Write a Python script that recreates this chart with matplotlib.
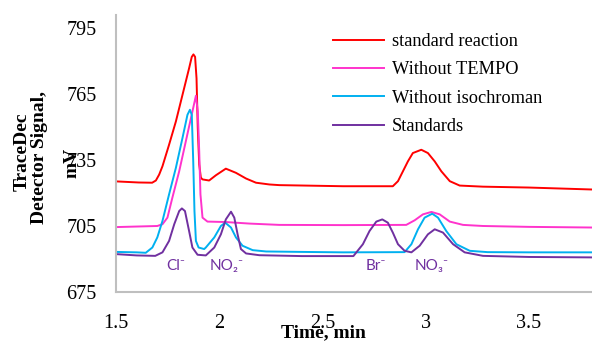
import matplotlib
matplotlib.use("Agg")
import matplotlib.pyplot as plt

# traces (time in min, signal in mV)
red_t = [1.50, 1.61, 1.675, 1.693, 1.709, 1.725, 1.757, 1.790, 1.822, 1.854, 1.867, 1.875,
         1.883, 1.890, 1.896, 1.903, 1.911, 1.919, 1.951, 1.984, 2.032, 2.081, 2.130, 2.178,
         2.243, 2.291, 2.60, 2.841, 2.866, 2.890, 2.914, 2.938, 2.979, 3.011, 3.044, 3.076,
         3.117, 3.165, 3.278, 3.50, 3.81]
red_v = [725.3, 724.8, 724.7, 725.7, 728.4, 732.2, 742.0, 752.6, 764.7, 776.8, 782.0, 783.1,
         782.0, 772.2, 749.6, 733.0, 727.0, 726.2, 725.7, 728.1, 731.1, 729.2, 726.6, 724.7,
         723.9, 723.6, 723.1, 723.1, 725.4, 729.9, 734.4, 738.2, 739.7, 738.2, 734.4, 729.9,
         725.4, 723.4, 722.9, 722.5, 721.6]

mag_t = [1.50, 1.62, 1.70, 1.725, 1.749, 1.773, 1.806, 1.838, 1.870, 1.887, 1.896, 1.903,
         1.909, 1.919, 1.943, 2.032, 2.146, 2.291, 2.60, 2.906, 2.947, 2.987, 3.028, 3.068,
         3.117, 3.181, 3.278, 3.50, 3.81]
mag_v = [704.5, 704.8, 705.0, 705.8, 708.8, 717.9, 729.9, 743.5, 757.1, 764.3, 757.1, 739.0,
         719.4, 708.8, 707.0, 706.8, 706.1, 705.5, 705.4, 705.5, 707.6, 710.3, 711.4, 710.3,
         707.0, 705.5, 705.0, 704.6, 704.3]

cyan_t = [1.50, 1.60, 1.644, 1.676, 1.700, 1.725, 1.757, 1.790, 1.822, 1.846, 1.858, 1.867,
          1.874, 1.880, 1.887, 1.900, 1.927, 1.935, 1.976, 2.008, 2.029, 2.057, 2.081, 2.113,
          2.162, 2.227, 2.40, 2.60, 2.898, 2.931, 2.963, 2.995, 3.032, 3.060, 3.100, 3.149,
          3.214, 3.30, 3.50, 3.81]
cyan_v = [693.2, 693.0, 692.8, 695.2, 699.8, 707.3, 719.4, 731.5, 745.1, 755.6, 757.9, 755.6,
          734.5, 711.8, 698.2, 695.2, 694.5, 695.2, 699.8, 705.0, 706.5, 704.3, 699.8, 696.0,
          694.0, 693.4, 693.2, 693.0, 693.1, 696.7, 703.5, 708.8, 710.6, 708.8, 702.7, 696.7,
          693.7, 693.1, 693.0, 693.0]

pur_t = [1.50, 1.60, 1.69, 1.725, 1.757, 1.782, 1.806, 1.819, 1.834, 1.854, 1.870, 1.895,
         1.935, 1.976, 2.008, 2.032, 2.057, 2.073, 2.089, 2.105, 2.130, 2.194, 2.40, 2.65,
         2.696, 2.728, 2.761, 2.790, 2.817, 2.841, 2.866, 2.898, 2.931, 2.971, 3.011, 3.044,
         3.084, 3.133, 3.189, 3.278, 3.50, 3.81]
pur_v = [692.2, 691.6, 691.4, 693.0, 698.2, 705.8, 711.8, 713.0, 711.8, 702.7, 695.2, 691.9,
         691.6, 695.2, 701.2, 708.0, 711.5, 708.8, 701.2, 694.5, 692.5, 691.7, 691.3, 691.3,
         696.7, 702.7, 707.0, 708.0, 706.5, 702.0, 696.7, 693.7, 693.0, 696.0, 701.2, 703.5,
         702.0, 696.7, 693.0, 691.4, 690.9, 690.7]

series_names = ["standard reaction", "Without TEMPO", "Without isochroman", "Standards"]
series_colors = ["#FF0000", "#FF33CC", "#00B0F0", "#7030A0"]

ion_labels = ["Cl\u207b", "NO\u2082\u207b", "Br\u207b", "NO\u2083\u207b"]
ion_times = [1.79, 2.035, 2.76, 3.03]

serif = "Liberation Serif"

fig = plt.figure(figsize=(5.92, 3.43), dpi=100)
ax = fig.add_axes([0.196, 0.149, 0.804, 0.807])

traces = [(red_t, red_v), (mag_t, mag_v), (cyan_t, cyan_v), (pur_t, pur_v)]
for (t, v), name, col in zip(traces, series_names, series_colors):
    ax.plot(t, v, color=col, lw=1.4, label=name, solid_joinstyle="round")

ax.set_xlim(1.5, 3.806)
ax.set_ylim(675, 801)
ax.set_yticks([675, 705, 735, 765, 795])
ax.set_xticks([1.5, 2, 2.5, 3, 3.5])
ax.set_xticklabels(["1.5", "2", "2.5", "3", "3.5"])

for s in ["top", "right"]:
    ax.spines[s].set_visible(False)
for s in ["left", "bottom"]:
    ax.spines[s].set_color("#BFBFBF")
    ax.spines[s].set_linewidth(1.5)
ax.tick_params(length=0, labelsize=14.5)
ax.tick_params(axis="y", pad=14)
ax.tick_params(axis="x", pad=16)
for lab in ax.get_xticklabels() + ax.get_yticklabels():
    lab.set_fontfamily(serif)

for lab, t in zip(ion_labels, ion_times):
    ax.text(t, 686.8, lab, color="#7030A0", fontsize=11, ha="center", va="center",
            family=["Lato", "DejaVu Sans"])

leg = ax.legend(loc="upper left", bbox_to_anchor=(333 / 592, 1 - 33 / 343),
                bbox_transform=fig.transFigure, frameon=False, borderpad=0,
                borderaxespad=0, handlelength=2.8, handletextpad=0.4,
                labelspacing=0.62, prop={"family": serif, "size": 13.2})

fig.text(323 / 592, 1 - 333 / 343, "Time, min", ha="center", va="center",
         fontsize=14, fontweight="bold", family=serif)
fig.text(22 / 592, 1 - 152 / 343, "TraceDec", rotation=90, ha="center", va="center",
         fontsize=14, fontweight="bold", family=serif)
fig.text(40 / 592, 1 - 158 / 343, "Detector Signal,", rotation=90, ha="center",
         va="center", fontsize=14, fontweight="bold", family=serif)
fig.text(72 / 592, 1 - 163 / 343, "mV", rotation=90, ha="center", va="center",
         fontsize=14, fontweight="bold", family=serif)

fig.savefig("out.png", dpi=100)
